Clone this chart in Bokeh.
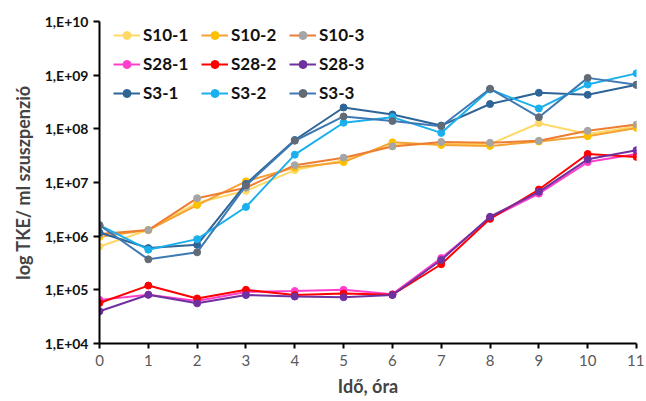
from bokeh.plotting import figure
from bokeh.models import Legend, LegendItem, FixedTicker, CustomJSTickFormatter, Range1d
from bokeh.embed import file_html
from bokeh.resources import INLINE

hours = [0, 1, 2, 3, 4, 5, 6, 7, 8, 9, 10, 11]

s10_1 = [6.4e5, 1.3e6, 4.2e6, 7.0e6, 1.7e7, 2.6e7, 5.0e7, 5.3e7, 5.2e7, 1.27e8, 8.0e7, 1.1e8]
s10_2 = [9.7e5, 1.3e6, 3.8e6, 1.05e7, 1.9e7, 2.4e7, 5.6e7, 5.0e7, 4.8e7, 5.8e7, 7.3e7, 1.04e8]
s10_3 = [1.1e6, 1.3e6, 5.1e6, 8.0e6, 2.1e7, 2.9e7, 4.7e7, 5.7e7, 5.5e7, 6.0e7, 9.2e7, 1.2e8]
s28_1 = [6.5e4, 8.1e4, 6.2e4, 9.1e4, 9.5e4, 1.0e5, 8.3e4, 3.9e5, 2.15e6, 6.2e6, 2.4e7, 3.4e7]
s28_2 = [5.7e4, 1.2e5, 6.9e4, 1.0e5, 8.0e4, 8.5e4, 8.1e4, 3.0e5, 2.1e6, 7.4e6, 3.4e7, 3.0e7]
s28_3 = [4.0e4, 8.1e4, 5.6e4, 8.0e4, 7.5e4, 7.3e4, 8.0e4, 3.6e5, 2.3e6, 6.7e6, 2.7e7, 4.0e7]
s3_1 = [1.17e6, 6.0e5, 6.9e5, 9.4e6, 6.2e7, 2.5e8, 1.85e8, 1.15e8, 2.9e8, 4.7e8, 4.3e8, 6.6e8]
s3_2 = [1.6e6, 5.6e5, 8.8e5, 3.5e6, 3.3e7, 1.3e8, 1.65e8, 8.4e7, 5.4e8, 2.4e8, 6.7e8, 1.08e9]
s3_3 = [1.6e6, 3.7e5, 5.0e5, 8.8e6, 6.0e7, 1.7e8, 1.4e8, 1.12e8, 5.6e8, 1.65e8, 8.9e8, 6.6e8]

names = ["S10-1", "S10-2", "S10-3", "S28-1", "S28-2", "S28-3", "S3-1", "S3-2", "S3-3"]
series = [s10_1, s10_2, s10_3, s28_1, s28_2, s28_3, s3_1, s3_2, s3_3]
line_colors = ["#FFD966", "#F5A133", "#ED7D31", "#FF3FCB", "#FF0000", "#7030A0", "#2F6497", "#1AB0EE", "#3F79B4"]
marker_colors = ["#FFD966", "#FFC000", "#A5A5A5", "#FF3FCB", "#FF0000", "#7030A0", "#2F6497", "#1AB0EE", "#626B75"]

y_ticks = [1e4, 1e5, 1e6, 1e7, 1e8, 1e9, 1e10]

FONT = "Lato"

p = figure(width=644, height=399, y_axis_type="log", output_backend="svg",
           toolbar_location=None, x_range=Range1d(0, 11), y_range=Range1d(1e4, 1e10),
           min_border_left=99, min_border_right=8, min_border_top=21, min_border_bottom=56)
p.outline_line_color = None
p.xgrid.visible = False
p.ygrid.visible = False

renderers = {}
for nm, ys, lc, mc in zip(names, series, line_colors, marker_colors):
    l = p.line(hours, ys, line_color=lc, line_width=2)
    s = p.scatter(hours, ys, size=7, fill_color=mc, line_color=mc)
    renderers[nm] = [l, s]

order = ["S10-1", "S28-1", "S3-1", "S10-2", "S28-2", "S3-2", "S10-3", "S28-3", "S3-3"]
items = [LegendItem(label=n, renderers=renderers[n]) for n in order]
legend = Legend(items=items, location=(14, 240), nrows=3, orientation="vertical",
                label_text_font=FONT, label_text_font_style="bold", label_text_font_size="17px",
                label_text_color="#111111", glyph_width=27, label_standoff=3, spacing=8,
                label_height=20, glyph_height=20, label_width=50, padding=0, margin=0,
                border_line_color=None, background_fill_alpha=0)
p.add_layout(legend)

p.xaxis.ticker = FixedTicker(ticks=hours)
p.xaxis.minor_tick_line_color = None
p.xaxis.axis_line_width = 2
p.xaxis.major_tick_line_width = 2
p.xaxis.major_tick_in = 0
p.xaxis.major_tick_out = 5
p.xaxis.major_label_standoff = 6
p.xaxis.major_label_text_font = FONT
p.xaxis.major_label_text_font_size = "15px"
p.xaxis.major_label_text_color = "#595959"
p.xaxis.axis_label = "Idő, óra"
p.xaxis.axis_label_text_font = FONT
p.xaxis.axis_label_text_font_style = "bold"
p.xaxis.axis_label_text_font_size = "18px"
p.xaxis.axis_label_standoff = 6

p.yaxis.ticker = FixedTicker(ticks=y_ticks, minor_ticks=[])
p.yaxis.formatter = CustomJSTickFormatter(code="""
const e = Math.round(Math.log10(tick));
return "1,E+" + (e < 10 ? "0" : "") + e;
""")
p.yaxis.minor_tick_line_color = None
p.yaxis.axis_line_width = 2
p.yaxis.major_tick_line_width = 2
p.yaxis.major_tick_in = 0
p.yaxis.major_tick_out = 6
p.yaxis.major_label_text_font = FONT
p.yaxis.major_label_text_font_style = "bold"
p.yaxis.major_label_text_font_size = "14px"
p.yaxis.major_label_text_color = "#111111"
p.yaxis.axis_label = "log TKE/ ml szuszpenzió"
p.yaxis.axis_label_text_font = FONT
p.yaxis.axis_label_text_font_style = "bold"
p.yaxis.axis_label_text_font_size = "18px"
p.yaxis.axis_label_standoff = 8

open("out.html", "w").write(file_html(p, INLINE))
